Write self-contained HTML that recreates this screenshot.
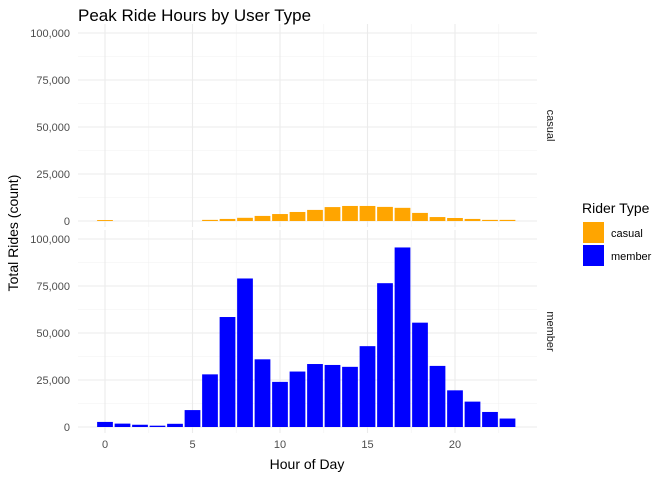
<!DOCTYPE html>
<html><head><meta charset="utf-8"><style>
body{margin:0;background:#fff;font-family:"Liberation Sans",sans-serif;}
svg text{font-family:"Liberation Sans",sans-serif;}
</style></head><body>
<svg id="c" width="672" height="480"></svg>
<script>
const hours=[0,1,2,3,4,5,6,7,8,9,10,11,12,13,14,15,16,17,18,19,20,21,22,23];
const casual=[500,0,0,0,0,0,600,1100,1700,2700,3700,4800,5900,7400,8000,8000,7500,7000,4300,2100,1600,1100,600,600];
const member=[2700,1800,1200,700,1700,9000,28000,58500,79000,36000,24000,29500,33500,33000,32000,43000,76500,95500,55500,32500,19500,13500,8000,4500];
const yTicks=[0,25000,50000,75000,100000];
const yTickLabels=["0","25,000","50,000","75,000","100,000"];
const xTicks=[0,5,10,15,20];
const NS="http://www.w3.org/2000/svg";
const svg=document.getElementById('c');
function el(t,a,p){const e=document.createElementNS(NS,t);for(const k in a)e.setAttribute(k,a[k]);(p||svg).appendChild(e);return e;}
const X0=78,X1=537;
const x=h=>105+h*17.5;
const panels=[{name:'casual',data:casual,color:'#FFA500',top:33,base:221,pt:24,pb:227},{name:'member',data:member,color:'#0000FF',top:239,base:427,pt:230,pb:433}];
const t=el('text',{x:78,y:21,'font-size':17,fill:'#000'});t.textContent='Peak Ride Hours by User Type';


panels.forEach(p=>{
 const y=v=>p.base-v/100000*(p.base-p.top);
 const g=el('g',{});
 
 
 for(let i=0;i<yTicks.length-1;i++){const m=(yTicks[i]+yTicks[i+1])/2;el('line',{x1:X0,x2:X1,y1:y(m),y2:y(m),stroke:'#f2f2f2','stroke-width':0.6},g);}
 for(let h=2.5;h<24;h+=5)el('line',{x1:x(h),x2:x(h),y1:p.pt,y2:p.pb,stroke:'#f2f2f2','stroke-width':0.6},g);
 yTicks.forEach((v,i)=>{el('line',{x1:X0,x2:X1,y1:y(v),y2:y(v),stroke:'#ebebeb','stroke-width':1.1},g);
  const tl=el('text',{x:70,y:y(v)+4,'font-size':11,fill:'#4d4d4d','text-anchor':'end'},g);tl.textContent=yTickLabels[i];
  
  });
 xTicks.forEach(h=>el('line',{x1:x(h),x2:x(h),y1:p.pt,y2:p.pb,stroke:'#ebebeb','stroke-width':1.1},g));
 hours.forEach((h,i)=>{const v=p.data[i];if(v<=0)return;const bw=15.75;
  const r=el('rect',{x:x(h)-bw/2,y:y(v),width:bw,height:p.base-y(v),fill:p.color},g);
  
  });
 const s=el('text',{x:547,y:(p.pt+p.pb)/2,'font-size':11,fill:'#1a1a1a','text-anchor':'middle',transform:`rotate(90 547 ${(p.pt+p.pb)/2})`});s.textContent=p.name;
 
 
});
xTicks.forEach(h=>{const tl=el('text',{x:x(h),y:448,'font-size':11,fill:'#4d4d4d','text-anchor':'middle'});tl.textContent=h;
 
 });
const xt=el('text',{x:307,y:469,'font-size':14,fill:'#000','text-anchor':'middle'});xt.textContent='Hour of Day';


const yt=el('text',{x:18,y:233,'font-size':14,fill:'#000','text-anchor':'middle',transform:'rotate(-90 18 233)'});yt.textContent='Total Rides (count)';


const lg=el('g',{});


const lt=el('text',{x:582,y:213,'font-size':14,fill:'#000'},lg);lt.textContent='Rider Type';
[['casual','#FFA500',222],['member','#0000FF',245]].forEach(([n,c,yy])=>{
 const e=el('g',{},lg);
 
 
 el('rect',{x:583,y:yy,width:21,height:21,fill:c},e);
 const tx=el('text',{x:611,y:yy+15,'font-size':11,fill:'#000'},e);tx.textContent=n;
});
</script>
</body></html>
